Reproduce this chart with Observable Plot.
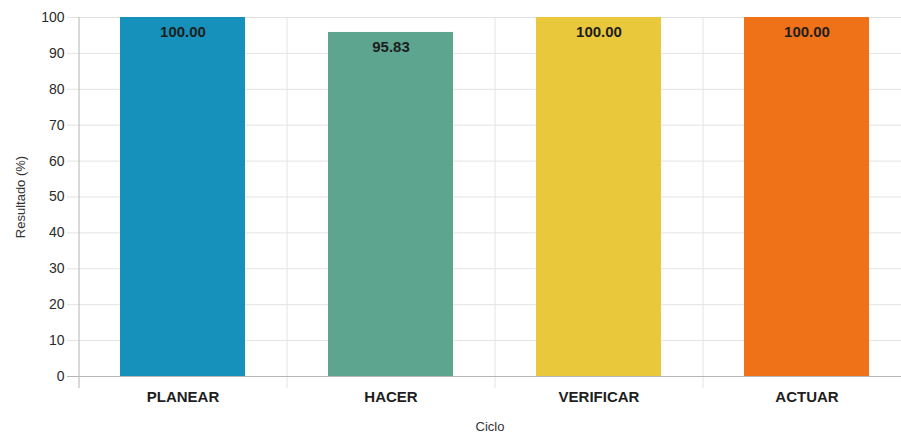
<!DOCTYPE html>
<html>
<head>
<meta charset="utf-8">
<script src="https://cdn.jsdelivr.net/npm/d3@7"></script>
<script src="https://cdn.jsdelivr.net/npm/@observablehq/plot@0.6"></script>
<style>
  html, body { margin: 0; padding: 0; background: #fff; overflow: hidden; }
  #chart { width: 901px; height: 441px; overflow: hidden; }
</style>
</head>
<body>
<div id="chart"></div>
<script>
const categories = ["PLANEAR", "HACER", "VERIFICAR", "ACTUAR"];
const values = [100.00, 95.83, 100.00, 100.00];
const colors = ["#1591BB", "#5DA58F", "#E9C83B", "#EF7118"];
const yTicks = [0, 10, 20, 30, 40, 50, 60, 70, 80, 90, 100];

const data = categories.map((c, i) => ({ciclo: c, valor: values[i]}));

const xRange = [78, 910];
const step = (xRange[1] - xRange[0]) / categories.length;

const chart = Plot.plot({
  width: 901,
  height: 441,
  marginTop: 17,
  marginBottom: 65,
  marginLeft: 78,
  marginRight: 0,
  style: {fontFamily: "Liberation Sans, Arial, sans-serif", background: "#fff", overflow: "visible"},
  x: {domain: categories, range: xRange, paddingInner: 0.4, paddingOuter: 0.2, label: null},
  y: {domain: [0, 100], label: null},
  color: {domain: categories, range: colors},
  marks: [
    // horizontal grid lines with left tick extension
    Plot.ruleY(yTicks, {stroke: "#e3e3e3", strokeWidth: 1, insetLeft: -11}),
    // vertical grid lines at band boundaries (extending below axis)
    Plot.ruleX(categories.slice(1), {dx: -step / 2, stroke: "#e3e3e3", strokeWidth: 1, insetBottom: -12}),
    Plot.barY(data, {x: "ciclo", y: "valor", fill: "ciclo"}),
    Plot.text(data, {x: "ciclo", y: "valor", text: d => d.valor.toFixed(2), dy: 15, fontSize: 15, fontWeight: "bold", fill: "#1e1e1e"}),
    // axis lines
    Plot.ruleY([0], {stroke: "#b5b5b5", strokeWidth: 1.2, insetLeft: -11}),
    Plot.ruleX(categories.slice(0, 1), {dx: -step / 2, stroke: "#c0c0c0", strokeWidth: 1.2, insetBottom: -12}),
    Plot.axisY(yTicks, {tickSize: 0, tickPadding: 14, fontSize: 14, fill: "#2a2a2a", label: null}),
    Plot.axisX({tickSize: 0, tickPadding: 15, fontSize: 15, fontWeight: "bold", fill: "#1e1e1e", label: null}),
    Plot.text(["Ciclo"], {frameAnchor: "bottom", dy: 54, fontSize: 13, fill: "#333"}),
    Plot.text(["Resultado (%)"], {frameAnchor: "left", dx: -58, rotate: -90, textAnchor: "middle", fontSize: 13, fill: "#333"})
  ]
});

document.getElementById("chart").appendChild(chart);
</script>
</body>
</html>
